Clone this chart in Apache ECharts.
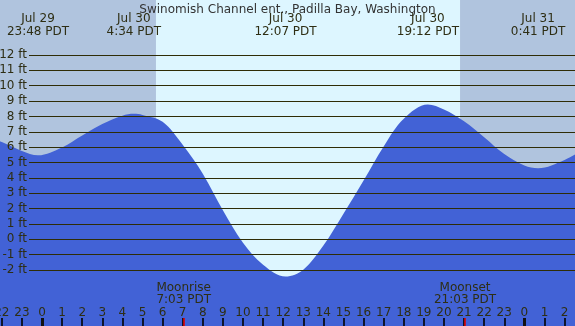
<!DOCTYPE html>
<html>
<head>
<meta charset="utf-8">
<script src="https://cdn.jsdelivr.net/npm/echarts@6/dist/echarts.min.js"></script>
<style>
  html, body { margin: 0; padding: 0; }
  #chart { width: 575px; height: 326px; }
</style>
</head>
<body>
<div id="chart"></div>
<script>
// hours since Jul 30 00:00 PDT, tide height in ft
const tideHours = [-3, -2, -1, -0.2, 1, 2, 3, 4, 4.57, 5, 6, 7, 8, 9, 10, 11, 12.12, 13, 14, 15, 16, 17, 18, 19.2, 20, 21, 22, 23, 24, 24.68, 26, 27]
const tideHeights = [6.85, 6.33, 5.75, 5.47, 5.98, 6.75, 7.5, 8.05, 8.17, 8.1, 7.65, 6.15, 4.27, 1.89, -0.22, -1.65, -2.42, -1.98, -0.41, 1.66, 3.83, 6.05, 7.85, 8.78, 8.45, 7.69, 6.65, 5.55, 4.8, 4.63, 5.17, 5.9]

const extremeTimes = [-0.2, 4.567, 12.117, 19.2, 24.683]
const extremeLabels = ['Jul 29\n23:48 PDT', 'Jul 30\n4:34 PDT', 'Jul 30\n12:07 PDT', 'Jul 30\n19:12 PDT', 'Jul 31\n0:41 PDT']

const moonTimes = [7.05, 21.05]
const moonLabels = ['Moonrise\n7:03 PDT', 'Moonset\n21:03 PDT']

const sunTimes = [5.67, 20.8] // sunrise, sunset
const midnights = [0, 24]
const hourTicks = []
for (let h = -2; h <= 26; h++) hourTicks.push(h)
const feetTicks = [-2, 12] // range of the ft lines

const title = 'Swinomish Channel ent., Padilla Bay, Washington'

// x range of the picture (hours)
const X_MIN = -2.09
const X_MAX = 26.52

const textColor = '#2e2e14'
const font = 'DejaVu Sans'

const chart = echarts.init(document.getElementById('chart'))

const baseX = (extra) => Object.assign({
  type: 'value',
  gridIndex: 0,
  min: X_MIN,
  max: X_MAX,
  position: 'bottom',
  z: 6,
  axisLine: { show: false, onZero: false },
  splitLine: { show: false },
  axisLabel: { show: false },
  axisTick: { show: false }
}, extra)

// tick marks along the bottom strip
const tickLines = hourTicks
  .filter((h) => midnights.indexOf(h) < 0)
  .map((h) => ({ xAxis: h, lineStyle: { color: '#000000', width: 1.6, type: 'solid' } }))
  .concat(midnights.map((h) => ({ xAxis: h, lineStyle: { color: '#111111', width: 3, type: 'solid' } })))
  .concat(moonTimes.map((h) => ({ xAxis: h, lineStyle: { color: '#e00000', width: 1.6, type: 'solid' } })))

const option = {
  animation: false,
  backgroundColor: '#b0c4de',
  textStyle: { fontFamily: font },
  title: {
    text: title,
    left: 'center',
    top: -1,
    textStyle: { fontFamily: font, fontSize: 12, fontWeight: 'normal', color: '#333333' }
  },
  grid: [
    { left: 0, right: 0, top: 0, bottom: 0, outerBoundsMode: 'none' },
    { left: 29, right: 0, top: 55, bottom: 56, outerBoundsMode: 'none' },
    { left: 0, right: 0, top: 318, bottom: 0, outerBoundsMode: 'none' }
  ],
  xAxis: [
    // hour labels
    baseX({
      axisLabel: {
        show: true,
        inside: true,
        margin: 7,
        color: textColor,
        fontSize: 12,
        fontFamily: font,
        alignMinLabel: 'center',
        alignMaxLabel: 'center',
        customValues: hourTicks,
        formatter: (v) => String(((Math.round(v) % 24) + 24) % 24)
      }
    }),
    // moon events
    baseX({
      axisLabel: {
        show: true,
        inside: true,
        margin: 20,
        color: textColor,
        fontSize: 12,
        lineHeight: 12,
        fontFamily: font,
        customValues: moonTimes,
        formatter: (v) => moonLabels[moonTimes.indexOf(v)]
      }
    }),
    // high / low labels on top
    baseX({
      position: 'top',
      axisLabel: {
        show: true,
        inside: true,
        margin: 12,
        color: textColor,
        fontSize: 12,
        lineHeight: 13,
        fontFamily: font,
        customValues: extremeTimes,
        formatter: (v) => extremeLabels[extremeTimes.indexOf(v)]
      }
    }),
    { type: 'value', gridIndex: 1, show: false, min: 0, max: 1, axisLine: { onZero: false } },
    { type: 'value', gridIndex: 2, show: false, min: X_MIN, max: X_MAX, axisLine: { onZero: false } }
  ],
  yAxis: [
    { type: 'value', gridIndex: 0, show: false, min: -5.646, max: 15.581, axisLine: { onZero: false } },
    {
      type: 'value',
      gridIndex: 1,
      min: feetTicks[0],
      max: feetTicks[1],
      interval: 1,
      z: 5,
      axisLine: { show: false, onZero: false },
      axisTick: { show: false },
      axisLabel: {
        margin: 2,
        color: textColor,
        fontSize: 12,
        fontFamily: font,
        formatter: '{value} ft'
      },
      splitLine: { show: true, lineStyle: { color: '#2f2d06', width: 1 } }
    },
    { type: 'value', gridIndex: 2, show: false, min: 0, max: 1, axisLine: { onZero: false } }
  ],
  series: [
    {
      type: 'line',
      xAxisIndex: 0,
      yAxisIndex: 0,
      data: tideHours.map((h, i) => [h, tideHeights[i]]),
      smooth: 0.35,
      showSymbol: false,
      lineStyle: { width: 0 },
      areaStyle: { color: '#4262d6', opacity: 1, origin: 'start' },
      markArea: {
        silent: true,
        itemStyle: { color: '#ddf6ff' },
        data: [[{ xAxis: sunTimes[0] }, { xAxis: sunTimes[1] }]]
      }
    },
    {
      type: 'line',
      xAxisIndex: 4,
      yAxisIndex: 2,
      data: [[X_MIN, 0]],
      showSymbol: false,
      lineStyle: { width: 0 },
      z: 6,
      markLine: {
        silent: true,
        symbol: ['none', 'none'],
        label: { show: false },
        animation: false,
        data: tickLines
      }
    }
  ]
}

chart.setOption(option)
</script>
</body>
</html>
